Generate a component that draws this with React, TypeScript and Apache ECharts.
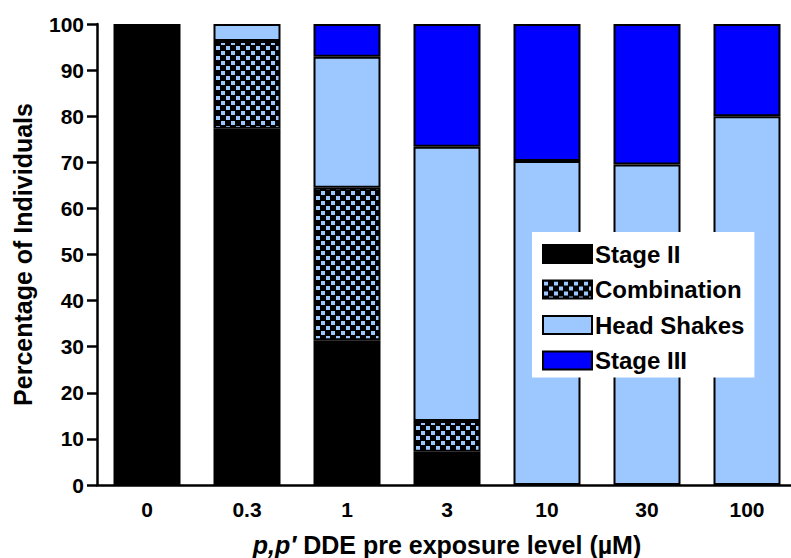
import React, { useEffect, useRef } from "react";
import * as echarts from "echarts";

const categories = ["0", "0.3", "1", "3", "10", "30", "100"];
const stageII = [100, 77.3, 31.4, 7.2, null, null, null];
const combination = [null, 19.0, 33.1, 6.7, null, null, null];
const headShakes = [null, 3.7, 28.4, 59.5, 70.3, 69.5, 80.0];
const stageIII = [null, null, 7.1, 26.6, 29.7, 30.5, 20.0];
const yTicks = { min: 0, max: 100, interval: 10 };

const FONT = "'Liberation Sans', Arial, Helvetica, sans-serif";
const LIGHT = "#9cc8ff";
const BLUE = "#0000ff";

function makeChecker(): HTMLCanvasElement {
  const c = document.createElement("canvas");
  c.width = 10;
  c.height = 10;
  const ctx = c.getContext("2d")!;
  ctx.fillStyle = "#000000";
  ctx.fillRect(0, 0, 10, 10);
  ctx.fillStyle = LIGHT;
  ctx.fillRect(1, 1, 4, 4);
  ctx.fillRect(6, 6, 4, 4);
  return c;
}

export default function App() {
  const ref = useRef<HTMLDivElement>(null);
  useEffect(() => {
    if (!ref.current) return;
    const chart = echarts.init(ref.current, null, { renderer: "svg" });
    const checker = { image: makeChecker(), repeat: "repeat" } as any;
    const barBase = {
      type: "bar",
      stack: "total",
      barWidth: 67,
      itemStyle: { borderColor: "#000", borderWidth: 2 },
      emphasis: { disabled: true },
    };
    chart.setOption({
      animation: false,
      textStyle: { fontFamily: FONT },
      grid: {
        left: 97,
        right: -6,
        top: 24,
        bottom: 73,
        containLabel: false,
        outerBoundsMode: "none",
      },
      legend: {
        orient: "vertical",
        left: 532,
        top: 232,
        padding: [10, 10, 5, 10],
        backgroundColor: "#ffffff",
        icon: "rect",
        itemWidth: 49,
        itemHeight: 18,
        itemGap: 11.5,
        selectedMode: false,
        textStyle: {
          fontFamily: FONT,
          fontSize: 24,
          fontWeight: "bold",
          color: "#000",
          lineHeight: 24,
          padding: [0, 0, 0, -2],
        },
        itemStyle: { borderColor: "#000", borderWidth: 2 },
        data: ["Stage II", "Combination", "Head Shakes", "Stage III"],
      },
      xAxis: {
        type: "category",
        data: categories,
        name: "{i|p,p′} DDE pre exposure level (µM)",
        nameLocation: "middle",
        nameGap: 47,
        nameTextStyle: {
          fontFamily: FONT,
          fontSize: 25,
          fontWeight: "bold",
          color: "#000",
          verticalAlign: "top",
          rich: {
            i: {
              fontFamily: FONT,
              fontSize: 25,
              fontWeight: "bold",
              fontStyle: "italic",
              color: "#000",
            },
          },
        },
        axisLine: { lineStyle: { color: "#000", width: 2.5 } },
        axisTick: { alignWithLabel: true, length: 9, lineStyle: { color: "#000", width: 2.5 } },
        axisLabel: {
          fontFamily: FONT,
          fontSize: 21,
          fontWeight: "bold",
          color: "#000",
          margin: 14,
        },
        splitLine: { show: false },
      },
      yAxis: {
        type: "value",
        min: yTicks.min,
        max: yTicks.max,
        interval: yTicks.interval,
        name: "Percentage of Individuals",
        nameLocation: "middle",
        nameGap: 62,
        nameTextStyle: {
          fontFamily: FONT,
          fontSize: 25,
          fontWeight: "bold",
          color: "#000",
        },
        axisLine: { show: true, lineStyle: { color: "#000", width: 2.5 } },
        axisTick: { show: true, length: 10, lineStyle: { color: "#000", width: 2.5 } },
        axisLabel: {
          fontFamily: FONT,
          fontSize: 21,
          fontWeight: "bold",
          color: "#000",
          margin: 13,
        },
        splitLine: { show: false },
      },
      series: [
        { ...barBase, name: "Stage II", data: stageII, itemStyle: { ...barBase.itemStyle, color: "#000000" } },
        { ...barBase, name: "Combination", data: combination, itemStyle: { ...barBase.itemStyle, color: checker } },
        { ...barBase, name: "Head Shakes", data: headShakes, itemStyle: { ...barBase.itemStyle, color: LIGHT } },
        { ...barBase, name: "Stage III", data: stageIII, itemStyle: { ...barBase.itemStyle, color: BLUE } },
      ],
    });
    return () => chart.dispose();
  }, []);
  return <div ref={ref} style={{ width: 791, height: 558, position: "absolute", left: 0, top: 0 }} />;
}
